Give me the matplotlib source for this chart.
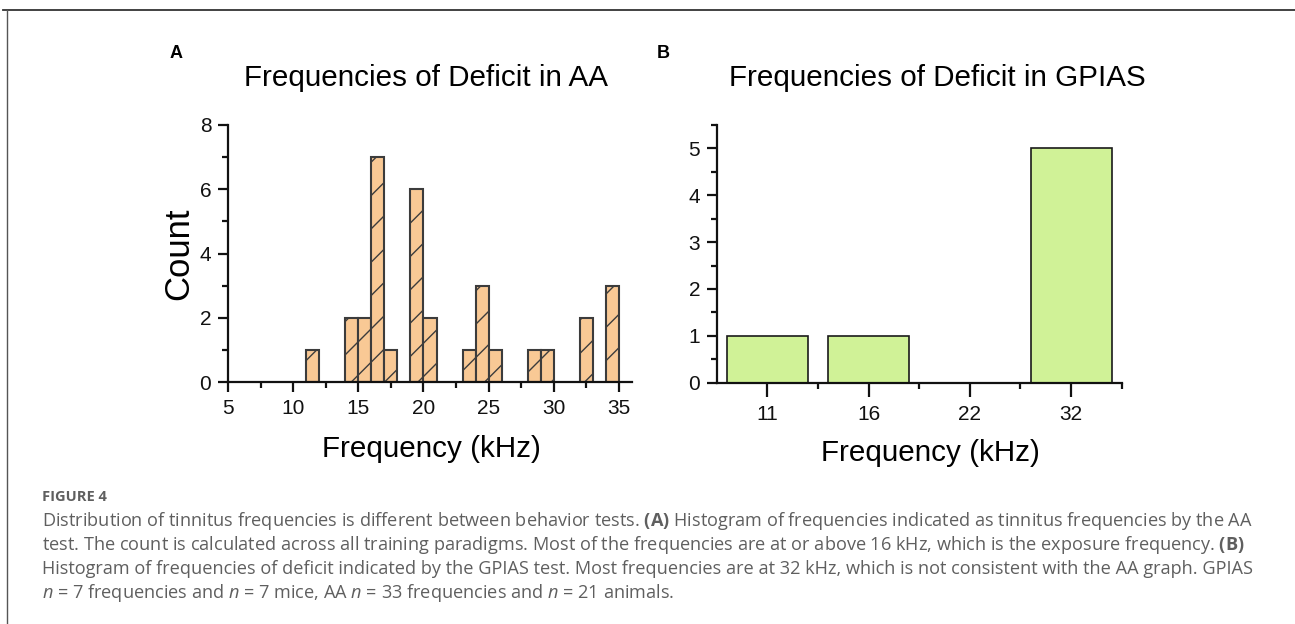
import matplotlib
matplotlib.use("Agg")
import matplotlib.pyplot as plt
import numpy as np
from matplotlib.ticker import MultipleLocator, FixedLocator

# ---- data ----
aa_bin_left = [11, 14, 15, 16, 17, 19, 20, 23, 24, 25, 28, 29, 32, 34]
aa_counts = [1, 2, 2, 7, 1, 6, 2, 1, 3, 1, 1, 1, 2, 3]
gp_labels = ["11", "16", "22", "32"]
gp_counts = [1, 1, 0, 5]

title_a = "Frequencies of Deficit in AA"
title_b = "Frequencies of Deficit in GPIAS"
xlabel = "Frequency (kHz)"
ylabel = "Count"

caption_head = "FIGURE 4"
caption_lines = [
    "Distribution of tinnitus frequencies is different between behavior tests. $\\bf{(A)}$ Histogram of frequencies indicated as tinnitus frequencies by the AA",
    "test. The count is calculated across all training paradigms. Most of the frequencies are at or above 16 kHz, which is the exposure frequency. $\\bf{(B)}$",
    "Histogram of frequencies of deficit indicated by the GPIAS test. Most frequencies are at 32 kHz, which is not consistent with the AA graph. GPIAS",
    "$\\it{n}$ = 7 frequencies and $\\it{n}$ = 7 mice, AA $\\it{n}$ = 33 frequencies and $\\it{n}$ = 21 animals.",
]

CAP_FONT = 'Open Sans'
plt.rcParams['font.family'] = ['Liberation Sans', 'DejaVu Sans']
plt.rcParams['hatch.linewidth'] = 1.0
plt.rcParams['mathtext.fontset'] = 'custom'
plt.rcParams['mathtext.rm'] = CAP_FONT
plt.rcParams['mathtext.bf'] = CAP_FONT + ':bold'
plt.rcParams['mathtext.it'] = CAP_FONT + ':italic'

W, H = 1295, 624
fig = plt.figure(figsize=(W / 100, H / 100), dpi=100)

def fx(px):
    return px / W

def fy(py):
    return 1 - py / H

# ---- Panel A ----
axA = fig.add_axes([fx(228), fy(382), fx(632) - fx(228), fy(125) - fy(382)])
axA.bar(aa_bin_left, aa_counts, width=1.0, align='edge', color='#F9C995',
        edgecolor='#3c3c3c', hatch='/', linewidth=1.5, zorder=2)
axA.set_xlim(5, 36)
axA.set_ylim(0, 8)
axA.xaxis.set_major_locator(MultipleLocator(5))
axA.xaxis.set_minor_locator(MultipleLocator(2.5))
axA.yaxis.set_major_locator(MultipleLocator(2))
axA.yaxis.set_minor_locator(MultipleLocator(1))
axA.set_ylabel(ylabel, fontsize=25, labelpad=3)

# ---- Panel B ----
axB = fig.add_axes([fx(716.7), fy(382.7), fx(1121.7) - fx(716.7), fy(125) - fy(382.7)])
pos = np.arange(1, len(gp_labels) + 1)
axB.bar(pos, gp_counts, width=0.8, color='#D0F297', edgecolor='#1a1a1a',
        linewidth=1.2, zorder=2)
axB.set_xlim(0.5, 4.5)
axB.set_ylim(0, 5.5)
axB.xaxis.set_major_locator(FixedLocator(pos))
axB.set_xticklabels(gp_labels)
axB.xaxis.set_minor_locator(FixedLocator([1.5, 2.5, 3.5, 4.5]))
axB.yaxis.set_major_locator(MultipleLocator(1))
axB.yaxis.set_minor_locator(MultipleLocator(0.5))

for ax in (axA, axB):
    for s in ('top', 'right'):
        ax.spines[s].set_visible(False)
    for s in ('left', 'bottom'):
        ax.spines[s].set_linewidth(1.6)
        ax.spines[s].set_color('#111111')
    ax.tick_params(which='major', direction='out', length=7, width=1.6,
                   labelsize=15, colors='#111111', pad=5)
    ax.tick_params(which='minor', direction='out', length=4, width=1.6,
                   colors='#111111')
axB.tick_params(axis='x', which='major', length=10, pad=6)

# titles and x labels placed as in the reference
fig.text(fx(425.5), fy(78), title_a, fontsize=21.3, ha='center', va='center')
fig.text(fx(937), fy(78), title_b, fontsize=21.3, ha='center', va='center')
fig.text(fx(431), fy(449), xlabel, fontsize=21.3, ha='center', va='center')
fig.text(fx(930.5), fy(453), xlabel, fontsize=21.3, ha='center', va='center')

# panel letters
fig.text(fx(176), fy(53), "A", fontsize=13, fontweight='bold', ha='center', va='center')
fig.text(fx(663), fy(53), "B", fontsize=13, fontweight='bold', ha='center', va='center')

# ---- caption ----
cap_color = '#5f5f5f'
cap_x = 42
fig.text(fx(cap_x), fy(497), caption_head, fontsize=10.5, color=cap_color,
         family=[CAP_FONT, 'DejaVu Sans'], fontweight='bold', ha='left', va='center')
for i, line in enumerate(caption_lines):
    fig.text(fx(cap_x), fy(521 + 24 * i), line, fontsize=13.1, color=cap_color,
             family=[CAP_FONT, 'DejaVu Sans'], ha='left', va='center')

# ---- frame lines ----
fig.add_artist(plt.Line2D([fx(3), 1], [fy(9.5), fy(9.5)], color='#333333', lw=1.3,
                          transform=fig.transFigure))
fig.add_artist(plt.Line2D([fx(7), fx(7)], [fy(9.5), 0], color='#555555', lw=1.0,
                          transform=fig.transFigure))

fig.savefig("out.png", dpi=100)
